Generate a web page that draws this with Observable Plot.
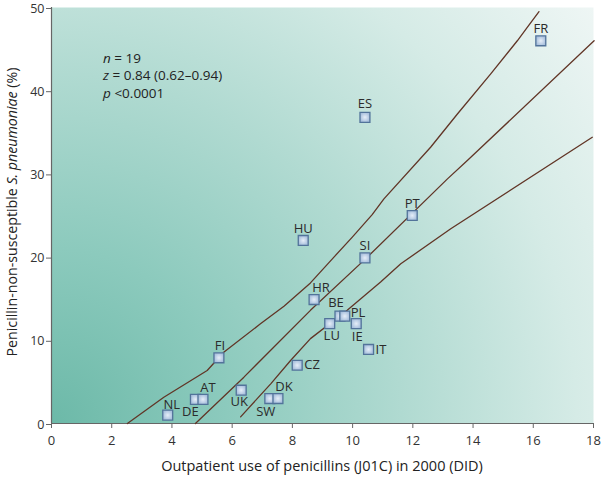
<!DOCTYPE html>
<html>
<head>
<meta charset="utf-8">
<script src="https://cdn.jsdelivr.net/npm/d3@7"></script>
<script src="https://cdn.jsdelivr.net/npm/@observablehq/plot@0.6"></script>
<style>
  html, body { margin: 0; padding: 0; background: #fff; }
  svg { display: block; }
</style>
</head>
<body>
<div id="chart"></div>
<script>
// Countries
const countries = ["NL","DE","AT","FI","UK","SW","DK","CZ","HU","HR","LU","BE","PL","IE","IT","SI","ES","PT","FR"];
// Outpatient use of penicillins (J01C) in 2000 (DID)
const usage = [3.86,4.78,5.03,5.56,6.3,7.25,7.52,8.16,8.36,8.72,9.24,9.58,9.74,10.12,10.53,10.41,10.41,11.98,16.25];
// Penicillin-non-susceptible S. pneumoniae (%)
const resistance = [1,2.9,2.9,7.9,4,3,3,7,22,14.9,12,12.9,12.9,12,8.9,19.9,36.8,25,46];

// Regression line and confidence bands
const upperX = [2.52,3.73,5.17,5.72,6.94,7.72,8.6,9.38,9.99,10.65,11.04,12.59,13.48,14.58,15.47,15.8,16.19];
const upperY = [0,3.16,6.37,8.57,11.98,14.1,16.9,20,22.4,25.1,27,33.2,37.2,42,46,47.6,49.5];
const fitX = [4.78,6.39,8.6,10.49,13.15,13.81,18.02];
const fitY = [0,5.57,13.6,20,29.4,31.6,46];
const lowerX = [6.28,7.28,7.94,8.6,9.82,10.93,11.6,13.26,17.96];
const lowerY = [0.8,4.77,7.57,10.2,13.6,17,19.2,23.4,34.4];

const xTicks = [0,2,4,6,8,10,12,14,16,18];
const yTicks = [0,10,20,30,40,50];

// label placement (pixel offsets, anchor) per country
const labelPlace = {
  NL:[4,-10,"middle"], DE:[-5,12,"middle"], AT:[5,-12,"middle"], FI:[1,-12,"middle"],
  UK:[-2,12,"middle"], SW:[-4,13,"middle"], DK:[6,-12,"middle"], CZ:[6,0,"start"],
  HU:[0,-12,"middle"], HR:[7,-12,"middle"], LU:[2,12,"middle"], BE:[-4,-13,"middle"],
  PL:[5,-3,"start"], IE:[1,13,"middle"], IT:[6,0,"start"], SI:[0,-12,"middle"],
  ES:[0,-13,"middle"], PT:[0,-12,"middle"], FR:[0,-12,"middle"]
};

const points = countries.map((c, i) => ({code: c, x: usage[i], y: resistance[i]}));
const lines = [
  ...upperX.map((x, i) => ({band: "upper", x, y: upperY[i]})),
  ...fitX.map((x, i) => ({band: "fit", x, y: fitY[i]})),
  ...lowerX.map((x, i) => ({band: "lower", x, y: lowerY[i]}))
];

const labelMarks = points.map(p => {
  const [dx, dy, a] = labelPlace[p.code];
  return Plot.text([p], {
    x: "x", y: "y", text: "code",
    dx: dx + (a === "start" ? 1 : 0), dy,
    textAnchor: a, lineAnchor: "middle",
    fill: "#2b2b2b", fontSize: 13
  });
});

const plot = Plot.plot({
  width: 605,
  height: 481,
  marginLeft: 51,
  marginRight: 12,
  marginTop: 7,
  marginBottom: 58,
  style: {fontFamily: "'Open Sans', sans-serif", fontSize: "13px", color: "#333", background: "#fff"},
  x: {domain: [0, 18], label: null},
  y: {domain: [0, 50], label: null},
  marks: [
    Plot.frame({fill: "url(#bgGrad)", stroke: null}),
    Plot.axisX({ticks: xTicks, tickSize: 5, tickPadding: 7, stroke: "#666", fill: "#333", fontSize: 13}),
    Plot.axisY({ticks: yTicks, tickSize: 5, tickPadding: 2, stroke: "#666", fill: "#333", fontSize: 12.5, dy: 1}),
    Plot.ruleY([0], {stroke: "#666", strokeWidth: 1.2}),
    Plot.ruleX([0], {stroke: "#666", strokeWidth: 1.2}),
    Plot.line(lines, {x: "x", y: "y", z: "band", stroke: "#613526", strokeWidth: 1.3, curve: "linear"}),
    Plot.dot(points, {x: "x", y: "y", symbol: "square", r: 5.6, fill: "url(#sqGrad)", stroke: "#52739a", strokeWidth: 1.3}),
    ...labelMarks
  ]
});

// gradients
const svg = d3.select(plot);
const defs = svg.insert("defs", ":first-child");
const sx = plot.scale("x"), sy = plot.scale("y");
const bg = defs.append("radialGradient").attr("id", "bgGrad")
  .attr("gradientUnits", "userSpaceOnUse")
  .attr("cx", sx.apply(0)).attr("cy", sy.apply(0)).attr("r", 700);
[[0, "#6cb9a8"], [0.25, "#8ccabd"], [0.5, "#b0dad1"], [0.75, "#d5ebe6"], [1, "#f1f7f6"]]
  .forEach(([o, c]) => bg.append("stop").attr("offset", o).attr("stop-color", c));
const sq = defs.append("radialGradient").attr("id", "sqGrad");
[[0, "#e6eef8"], [1, "#a9c0dd"]].forEach(([o, c]) => sq.append("stop").attr("offset", o).attr("stop-color", c));

// statistics annotation
const ann = svg.append("g").attr("font-family", "'Open Sans', sans-serif").attr("font-size", 13.5)
  .attr("fill", "#222").attr("text-anchor", "start");
const annX = sx.apply(1.73);
const annLines = [
  [["n", true], [" = 19", false]],
  [["z", true], [" = 0.84 (0.62\u20130.94)", false]],
  [["p", true], [" <0.0001", false]]
];
const annY = [43.3, 41.2, 39.1];
annLines.forEach((parts, i) => {
  const t = ann.append("text").attr("x", annX).attr("y", sy.apply(annY[i]));
  parts.forEach(([s, it]) => t.append("tspan").attr("font-style", it ? "italic" : "normal").text(s));
});

// axis labels
svg.append("text")
  .attr("x", (sx.apply(0) + sx.apply(18)) / 2).attr("y", 471)
  .attr("text-anchor", "middle").attr("font-family", "'Open Sans', sans-serif")
  .attr("font-size", 14.5).attr("fill", "#222")
  .text("Outpatient use of penicillins (J01C) in 2000 (DID)");
const yl = svg.append("text")
  .attr("transform", "translate(17," + ((sy.apply(0) + sy.apply(50)) / 2 - 3) + ") rotate(-90)")
  .attr("text-anchor", "middle").attr("font-family", "'Open Sans', sans-serif")
  .attr("font-size", 14.2).attr("fill", "#222");
yl.append("tspan").text("Penicillin-non-susceptible ");
yl.append("tspan").attr("font-style", "italic").text("S. pneumoniae");
yl.append("tspan").text(" (%)");

document.getElementById("chart").appendChild(plot);
</script>
</body>
</html>
